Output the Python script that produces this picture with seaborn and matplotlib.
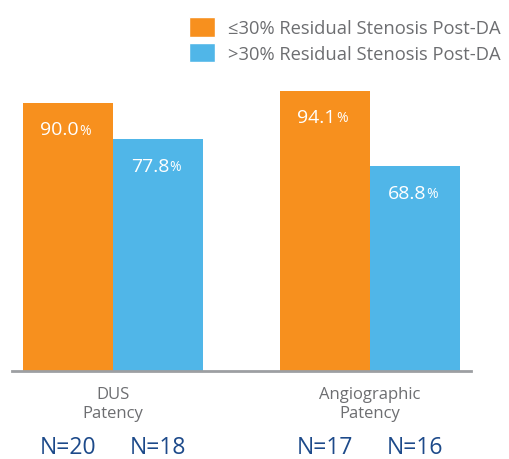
import matplotlib.pyplot as plt
import pandas as pd
import seaborn as sns
from matplotlib.patches import Patch

categories = ["DUS\nPatency", "Angiographic\nPatency"]
groups = ["\u226430% Residual Stenosis Post-DA", ">30% Residual Stenosis Post-DA"]
low_stenosis = [90.0, 94.1]
high_stenosis = [77.8, 68.8]
low_n = [20, 17]
high_n = [18, 16]

ORANGE = "#F7901E"
BLUE = "#50B6E8"
GRAY = "#6D6E71"
NAVY = "#1D4A8A"


def build_frame() -> pd.DataFrame:
    rows = []
    for cat, lo, hi, nlo, nhi in zip(categories, low_stenosis, high_stenosis, low_n, high_n):
        rows.append({"Category": cat, "Group": groups[0], "Patency": lo, "N": nlo})
        rows.append({"Category": cat, "Group": groups[1], "Patency": hi, "N": nhi})
    return pd.DataFrame(rows)


def main() -> None:
    sns.set_theme(style="white")
    plt.rcParams["font.family"] = ["Open Sans", "DejaVu Sans"]

    df = build_frame()
    fig = plt.figure(figsize=(5.1, 4.6), dpi=100)
    ax = fig.add_axes([0.0235, 0.1913, 0.9, 0.6474])

    sns.barplot(
        data=df, x="Category", y="Patency", hue="Group", order=categories, hue_order=groups,
        palette=[ORANGE, BLUE], width=0.704, gap=0, saturation=1, errorbar=None, legend=False,
        linewidth=0, ax=ax,
    )
    ax.set_ylim(0, 100)
    ax.set_xlim(-0.393, 1.393)

    for spine in ["top", "left", "right"]:
        ax.spines[spine].set_visible(False)
    ax.spines["bottom"].set_color("#9D9FA2")
    ax.spines["bottom"].set_linewidth(2)
    ax.set_yticks([])
    ax.set_xlabel("")
    ax.set_ylabel("")
    ax.tick_params(axis="x", length=0, pad=11, labelsize=12, labelcolor=GRAY)
    for lbl in ax.get_xticklabels():
        lbl.set_linespacing(1.25)

    # value labels and N counts, taken from the bars seaborn drew
    bars = sorted(ax.patches, key=lambda p: p.get_x())
    values = [low_stenosis[0], high_stenosis[0], low_stenosis[1], high_stenosis[1]]
    counts = [low_n[0], high_n[0], low_n[1], high_n[1]]
    for bar, val, n in zip(bars, values, counts):
        cx = bar.get_x() + bar.get_width() / 2
        top = bar.get_height()
        ax.annotate(f"{val:.1f}", xy=(cx, top), xytext=(8, -19), textcoords="offset points",
                    ha="right", va="center", color="white", fontsize=14)
        ax.annotate("%", xy=(cx, top), xytext=(8, -19.5), textcoords="offset points",
                    ha="left", va="center", color="white", fontsize=10)
        ax.annotate(f"N={n}", xy=(cx, 0.026), xycoords=("data", "figure fraction"),
                    ha="center", va="center", color=NAVY, fontsize=16.5)

    handles = [Patch(facecolor=ORANGE), Patch(facecolor=BLUE)]
    fig.legend(
        handles, groups, loc="upper left", bbox_to_anchor=(0.37, 0.96), frameon=False,
        fontsize=13.2, labelcolor=GRAY, handlelength=1.45, handleheight=1.25,
        handletextpad=0.7, labelspacing=0.3, borderaxespad=0, borderpad=0,
    )

    fig.savefig("out.png", dpi=100)
    plt.close(fig)


if __name__ == "__main__":
    main()
